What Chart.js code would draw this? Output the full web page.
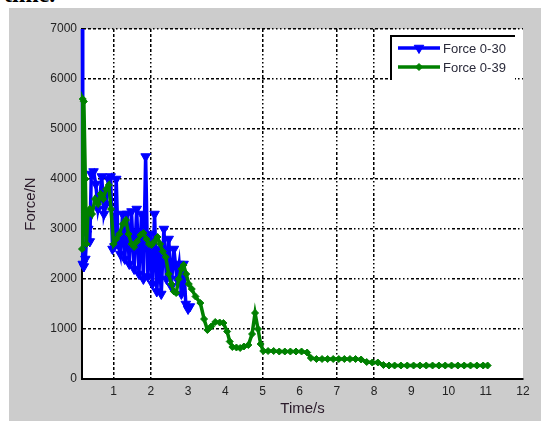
<!DOCTYPE html>
<html>
<head>
<meta charset="utf-8">
<title>Force vs time</title>
<script src="https://cdn.jsdelivr.net/npm/chart.js@4/dist/chart.umd.min.js"></script>
<style>
  html, body { margin: 0; padding: 0; background: #fff; }
  body { width: 548px; height: 421px; position: relative; overflow: hidden; }
  .cut-text {
    position: absolute; left: 4px; top: -19px;
    font: bold 24px "Liberation Serif", "DejaVu Serif", serif; color: #000;
  }
  #wrap { position: absolute; left: 0; top: 0; width: 548px; height: 421px; }
</style>
</head>
<body>
<div class="cut-text">time.</div>
<div id="wrap"><canvas id="forceChart" width="548" height="421"></canvas></div>
<script>
// ---- data ----
const seriesLabels = ['Force 0-30', 'Force 0-39'];

const timeA = [0.16, 0.17, 0.2, 0.24, 0.28, 0.32, 0.36, 0.4, 0.46, 0.52, 0.58, 0.63, 0.68, 0.74, 0.8,
  0.86, 0.92, 0.97, 1.02, 1.07, 1.12, 1.18, 1.24, 1.3, 1.36, 1.42, 1.48, 1.55, 1.62, 1.68, 1.75, 1.8,
  1.86, 1.92, 1.98, 2.04, 2.1, 2.16, 2.22, 2.28, 2.35, 2.42, 2.48, 2.55, 2.62, 2.7, 2.76, 2.82, 2.88,
  2.94, 3.0, 3.05];
const forceA = [7500, 2300, 2250, 2400, 2900, 3000, 2750, 4100, 4150, 3900, 3400, 3600, 4050, 3300, 3500,
  4000, 4050, 2600, 2650, 4000, 2700, 2500, 3300, 2400, 3300, 2300, 3350, 2200, 3400, 2100, 3300, 2000,
  4450, 2050, 2900, 1900, 3300, 1750, 2600, 1700, 3000, 2000, 2800, 1850, 2600, 2000, 2300, 1700, 2300,
  1500, 1400, 1450];

const timeB = [0.15, 0.17, 0.2, 0.24, 0.27, 0.31, 0.36, 0.42, 0.5, 0.58, 0.65, 0.72, 0.8, 0.87, 0.93,
  1.0, 1.07, 1.15, 1.25, 1.33, 1.4, 1.48, 1.55, 1.63, 1.72, 1.8, 1.88, 1.95, 2.02, 2.1, 2.18, 2.25,
  2.32, 2.4, 2.48, 2.55, 2.62, 2.68, 2.75, 2.82, 2.88, 2.95, 3.02, 3.1, 3.2, 3.33, 3.43, 3.52, 3.62,
  3.73, 3.85, 3.95, 4.05, 4.12, 4.19, 4.3, 4.4, 4.5, 4.62, 4.72, 4.8, 4.88, 4.95, 5.02, 5.15, 5.3,
  5.45, 5.6, 5.75, 5.9, 6.05, 6.2, 6.3, 6.45, 6.6, 6.75, 6.9, 7.05, 7.2, 7.35, 7.5, 7.65, 7.8, 7.95,
  8.1, 8.25, 8.4, 8.55, 8.72, 8.89, 9.06, 9.23, 9.4, 9.57, 9.74, 9.91, 10.08, 10.25, 10.42, 10.59,
  10.76, 10.93, 11.05];
const forceB = [2600, 5600, 5550, 4000, 2700, 3300, 3400, 3300, 3600, 3500, 3700, 3600, 3800, 3880, 3400,
  2700, 2800, 2900, 3100, 3180, 2900, 2700, 2640, 2750, 2880, 2920, 2800, 2700, 2680, 2750, 2840, 2700,
  2550, 2440, 2100, 1900, 1750, 1720, 2000, 2200, 2280, 2100, 1900, 1800, 1650, 1520, 1200, 980, 1050,
  1140, 1130, 1120, 950, 750, 640, 630, 620, 650, 680, 900, 1320, 1000, 700, 560, 560, 560,
  550, 550, 550, 550, 550, 530, 420, 400, 400, 400, 400, 400, 400, 400, 400, 390, 340, 330,
  330, 280, 270, 270, 270, 270, 270, 270, 270, 270, 270, 270, 270, 270, 270, 270,
  270, 270, 270];

const xTickValues = [1, 2, 3, 4, 5, 6, 7, 8, 9, 10, 11, 12];
const xGridShown = [1, 2, 5, 7, 8];   // only these vertical grid lines survive in the scan
const yMin = 0, yMax = 7000, yStep = 1000;
const xMin = 0.15, xMax = 12;

const GRID_DASH = [3, 2, 3, 2, 3, 2, 3, 2, 3, 2, 1.5, 2.5, 1.5, 2.5, 1.5, 2.5, 1.5, 2.5];
const LABEL_FONT = { family: 'Liberation Sans, Arial, sans-serif', size: 12 };
const TITLE_FONT = { family: 'Liberation Sans, Arial, sans-serif', size: 15 };

const toPoints = (xs, ys) => xs.map((x, i) => ({ x, y: ys[i] }));

// gray figure + white axes background
const backgroundPlugin = {
  id: 'figureBackground',
  beforeDraw(chart) {
    const { ctx, chartArea: a } = chart;
    ctx.save();
    ctx.fillStyle = '#cccccc';
    ctx.fillRect(9, 8, 532, 413);
    ctx.fillStyle = '#ffffff';
    ctx.fillRect(a.left, a.top, a.right - a.left, a.bottom - a.top);
    ctx.restore();
  }
};

// matlab-style boxed legend in the top-right corner
const legendBoxPlugin = {
  id: 'legendBox',
  afterDraw(chart) {
    const { ctx } = chart;
    const box = { x: 391, y: 36, w: 124, h: 44 };
    ctx.save();
    ctx.fillStyle = '#fff';
    ctx.fillRect(box.x, box.y, box.w, box.h);
    ctx.strokeStyle = '#000';
    ctx.lineWidth = 2;
    ctx.beginPath();
    ctx.moveTo(box.x, box.y + box.h);
    ctx.lineTo(box.x, box.y);
    ctx.lineTo(box.x + box.w, box.y);
    ctx.stroke();

    chart.data.datasets.forEach((ds, i) => {
      const cy = box.y + 12 + i * 19;
      ctx.strokeStyle = ds.borderColor;
      ctx.lineWidth = 3.5;
      ctx.beginPath();
      ctx.moveTo(box.x + 7, cy);
      ctx.lineTo(box.x + 49, cy);
      ctx.stroke();
      ctx.fillStyle = ds.backgroundColor;
      ctx.lineWidth = 1;
      Chart.helpers.drawPoint(ctx, {
        pointStyle: ds.pointStyle,
        rotation: ds.pointRotation || 0,
        radius: ds.pointRadius,
        borderWidth: 1
      }, box.x + 28, cy);
      ctx.fillStyle = '#2a2a3a';
      ctx.font = '13px "Liberation Sans", Arial, sans-serif';
      ctx.textBaseline = 'middle';
      ctx.textAlign = 'left';
      ctx.fillText(ds.label, box.x + 52, cy + 1);
    });
    ctx.restore();
  }
};

const ctx = document.getElementById('forceChart').getContext('2d');

new Chart(ctx, {
  type: 'line',
  data: {
    datasets: [
      {
        label: seriesLabels[0],
        data: toPoints(timeA, forceA),
        borderColor: '#0000ff',
        backgroundColor: '#0000ff',
        borderWidth: 3.5,
        pointStyle: 'triangle',
        pointRotation: 180,
        pointRadius: 5.5,
        pointBorderWidth: 1,
        tension: 0,
        order: 1,
        clip: { left: 8, top: 0, right: 0, bottom: 0 }
      },
      {
        label: seriesLabels[1],
        data: toPoints(timeB, forceB),
        borderColor: '#008000',
        backgroundColor: '#008000',
        borderWidth: 3.5,
        pointStyle: 'rectRot',
        pointRadius: 3.5,
        pointBorderWidth: 1,
        tension: 0,
        order: 0,
        clip: { left: 8, top: 0, right: 0, bottom: 0 }
      }
    ]
  },
  options: {
    responsive: false,
    animation: false,
    layout: { padding: { left: 0, right: 25, top: 29, bottom: 0 } },
    plugins: {
      legend: { display: false },
      tooltip: { enabled: false }
    },
    scales: {
      x: {
        type: 'linear',
        min: xMin,
        max: xMax,
        afterBuildTicks: (scale) => { scale.ticks = xTickValues.map(v => ({ value: v })); },
        afterFit: (scale) => { scale.height = 42; },
        grid: {
          color: (c) => (c.tick && xGridShown.includes(c.tick.value)) ? '#000' : 'rgba(0,0,0,0)',
          lineWidth: 1.5,
          drawTicks: false
        },
        border: { display: true, color: '#000', width: 2, dash: GRID_DASH },
        ticks: { color: '#222', font: LABEL_FONT, padding: 5, maxRotation: 0, callback: (v) => String(v) },
        title: { display: true, text: 'Time/s', color: '#2a1a2a', font: TITLE_FONT, padding: { top: 0, bottom: 3 } }
      },
      y: {
        min: yMin,
        max: yMax,
        afterFit: (scale) => { scale.width = 82; },
        ticks: { stepSize: yStep, color: '#222', font: LABEL_FONT, padding: 5, callback: (v) => String(v) },
        grid: {
          color: (c) => (c.tick && c.tick.value > 0) ? '#000' : 'rgba(0,0,0,0)',
          lineWidth: 1.5,
          drawTicks: false
        },
        border: { display: true, color: '#000', width: 2, dash: GRID_DASH },
        title: { display: true, text: 'Force/N', color: '#2a1a2a', font: TITLE_FONT, padding: { top: 22, bottom: 0 } }
      }
    }
  },
  plugins: [backgroundPlugin, legendBoxPlugin]
});
</script>
</body>
</html>
